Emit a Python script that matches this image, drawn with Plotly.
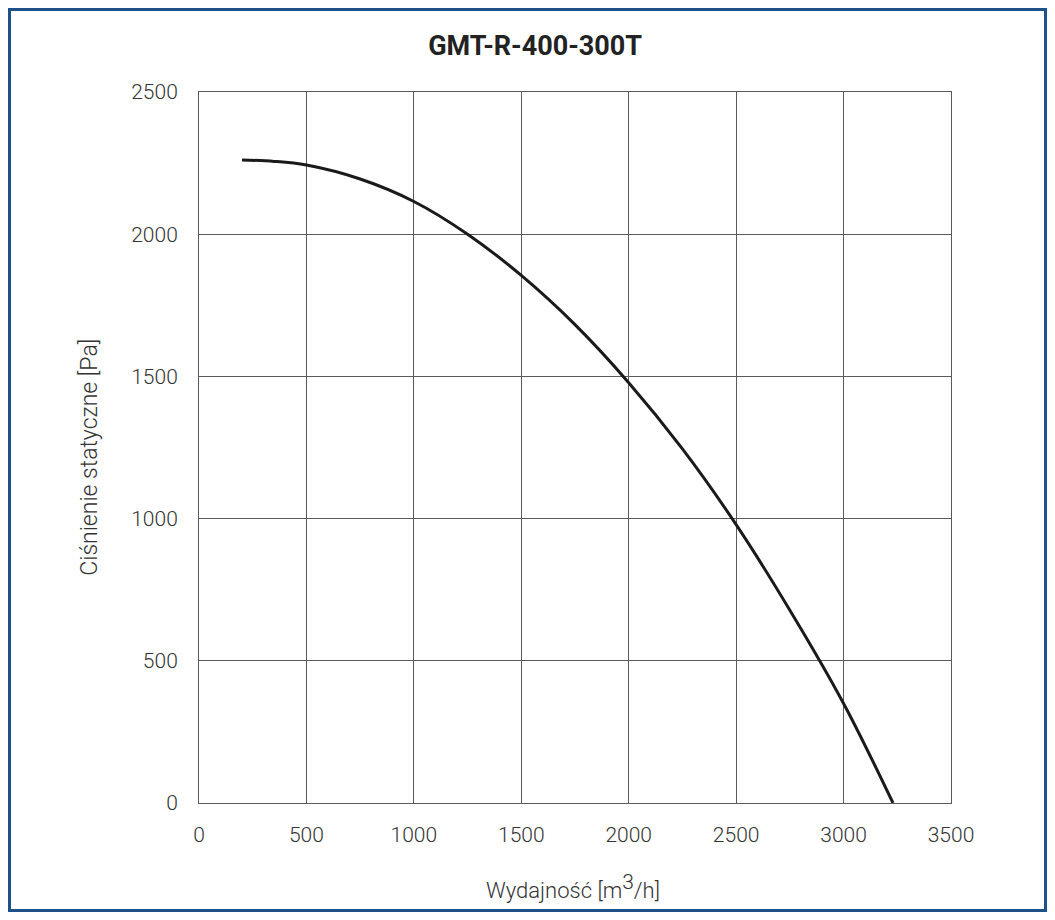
import plotly.graph_objects as go

# fan curve GMT-R-400-300T
flow = [200, 350, 500, 750, 1000, 1250, 1500, 1750, 2000, 2250, 2500, 2750, 3000, 3230]
pressure = [2261, 2256, 2243, 2194, 2115, 2000, 1855, 1682, 1478, 1245, 979, 678, 350, 0]

x_ticks = [0, 500, 1000, 1500, 2000, 2500, 3000, 3500]
y_ticks = [0, 500, 1000, 1500, 2000, 2500]

FONT = "Roboto"
TEXT = "#333333"
GRID = "#5a5a5a"

fig = go.Figure()
fig.add_trace(go.Scatter(
    x=flow, y=pressure,
    mode="lines",
    line=dict(color="#1a1a1a", width=3, shape="spline", smoothing=1.0),
    showlegend=False,
))

# page body keeps an 8px margin, so the figure is 16px smaller than the window
fig.update_layout(
    width=1039,
    height=904,
    margin=dict(l=191, r=96, t=84, b=109),
    paper_bgcolor="white",
    plot_bgcolor="white",
    font=dict(family=FONT, color=TEXT, size=21, weight=300),
    title=dict(
        text="GMT-R-400-300T",
        xref="paper", x=0.447, xanchor="center",
        yref="container", y=0.959, yanchor="middle",
        font=dict(family=FONT, size=27, color="#222222", weight="bold"),
    ),
    xaxis=dict(
        range=[0, 3500],
        tickvals=x_ticks,
        showgrid=True, gridcolor=GRID, gridwidth=1,
        showline=True, mirror=True, linecolor=GRID, linewidth=1,
        zeroline=False,
        ticks="", ticklabelstandoff=13,
        tickfont=dict(size=21, color=TEXT, weight=300),
    ),
    yaxis=dict(
        range=[0, 2500],
        tickvals=y_ticks,
        showgrid=True, gridcolor=GRID, gridwidth=1,
        showline=True, mirror=True, linecolor=GRID, linewidth=1,
        zeroline=False,
        ticks="", ticklabelstandoff=16,
        tickfont=dict(size=21, color=TEXT, weight=300),
    ),
)

# axis titles placed as annotations to sit where the datasheet has them
fig.add_annotation(
    text="Wydajność [m<sup><span style='font-size:21px'>3</span></sup>/h]",
    xref="paper", yref="paper", x=0.497, y=-0.118,
    xanchor="center", yanchor="middle", showarrow=False,
    font=dict(family=FONT, size=22, color=TEXT, weight=300),
)
fig.add_annotation(
    text="Ciśnienie statyczne [Pa]",
    xref="paper", yref="paper", x=-0.145, y=0.487,
    xanchor="center", yanchor="middle", showarrow=False, textangle=-90,
    font=dict(family=FONT, size=23, color=TEXT, weight=300),
)

# blue frame around the whole chart
fig.add_shape(
    type="rect", xref="paper", yref="paper",
    x0=-0.252, x1=1.1257, y0=-0.1512, y1=1.116,
    line=dict(color="#1d5189", width=3),
    fillcolor="rgba(0,0,0,0)", layer="below",
)

fig.write_html("out.html")
